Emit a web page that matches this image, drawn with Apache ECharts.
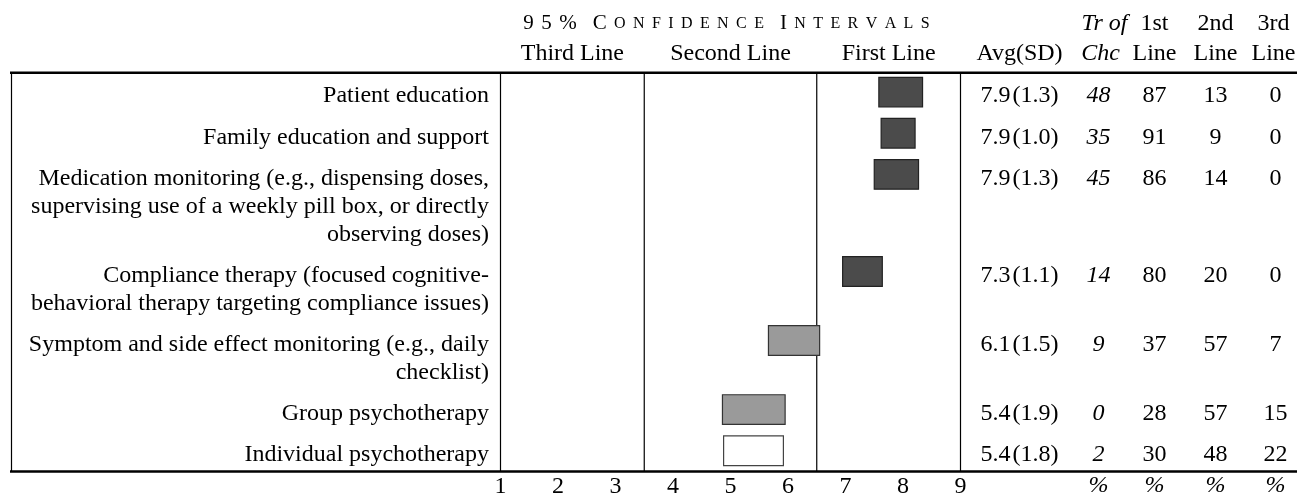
<!DOCTYPE html>
<html>
<head>
<meta charset="utf-8">
<script src="https://cdn.jsdelivr.net/npm/echarts@6/dist/echarts.min.js"></script>
<style>
html,body{margin:0;padding:0;background:#fff;}
#chart{width:1297px;height:494px;}
</style>
</head>
<body>
<div id="chart"></div>
<script>
// ---- data ----
const categories = [
  "Patient education",
  "Family education and support",
  "Medication monitoring (e.g., dispensing doses,\nsupervising use of a weekly pill box, or directly\nobserving doses)",
  "Compliance therapy (focused cognitive-\nbehavioral therapy targeting compliance issues)",
  "Symptom and side effect monitoring (e.g., daily\nchecklist)",
  "Group psychotherapy",
  "Individual psychotherapy"
];
const ciLow  = [7.58, 7.62, 7.50, 6.95, 5.66, 4.86, 4.88];
const ciHigh = [8.34, 8.21, 8.27, 7.64, 6.55, 5.95, 5.92];
const avgSD = ["7.9\u200A(1.3)", "7.9\u200A(1.0)", "7.9\u200A(1.3)", "7.3\u200A(1.1)", "6.1\u200A(1.5)", "5.4\u200A(1.9)", "5.4\u200A(1.8)"];
const treatmentOfChoice = [48, 35, 45, 14, 9, 0, 2];
const firstLinePct  = [87, 91, 86, 80, 37, 28, 30];
const secondLinePct = [13, 9, 14, 20, 57, 57, 48];
const thirdLinePct  = [0, 0, 0, 0, 7, 15, 22];
const barShade = ["dark", "dark", "dark", "dark", "grey", "grey", "white"];
const xTickLabels = ["1", "2", "3", "4", "5", "6", "7", "8", "9"];
const regionBounds = [1, 3.5, 6.5, 9];
const regionNames = ["Third Line", "Second Line", "First Line"];
const titleText = "95% Confidence Intervals";
const colHeadTop = ["", "Tr of", "1st", "2nd", "3rd"];
const colHeadBottom = ["Avg(SD)", "Chc", "Line", "Line", "Line"];
const colFooter = ["", "%", "%", "%", "%"];

// ---- layout helpers ----
const FONT = "'Liberation Serif','Times New Roman',serif";
const FS = 24;
const LINE = 28;          // px per text line
const ROW_GAP = 1.468;    // row step in line units for a one-line row
const BAR_H = 1.06;       // bar height in line units
const lineCounts = categories.map(c => c.split("\n").length);
const rowPos = [];
lineCounts.reduce((acc, n, i) => { rowPos.push(acc); return acc + (n - 1) + ROW_GAP; }, 0);
const yMin = -0.696;
const yMax = rowPos[rowPos.length - 1] + 0.743;
const colOffsets = [59, 138, 194, 255, 315]; // px right of plot edge (column centres)
const headNudge = [0, 6, 0, 0, -2];
const fills = {
  dark: {fill: "#4b4b4b", stroke: "#222"},
  grey: {fill: "#9a9a9a", stroke: "#333"},
  white: {fill: "#ffffff", stroke: "#444"}
};

function titleRich(str) {
  return str.split(" ").map(w => w.split("").map(ch =>
    /[a-z]/.test(ch) ? "{s|" + ch.toUpperCase() + "}" : "{n|" + ch + "}"
  ).join("{g| }")).join("{w| }");
}

const rowData = categories.map((c, i) => [ciLow[i], ciHigh[i], rowPos[i]]);

const chart = echarts.init(document.getElementById("chart"), null, {renderer: "canvas"});

const option = {
  animation: false,
  backgroundColor: "#fff",
  grid: {left: 500.5, right: 336.5, top: 72.7, bottom: 22.5, containLabel: false, outerBoundsMode: "none"},
  xAxis: {
    type: "value", min: 1, max: 9, interval: 1,
    axisLine: {show: false}, axisTick: {show: false}, splitLine: {show: false},
    axisLabel: {
      margin: 3, color: "#000", fontFamily: FONT, fontSize: FS,
      formatter: v => xTickLabels[Math.round(v) - 1]
    }
  },
  yAxis: {type: "value", inverse: true, min: yMin, max: yMax, show: false},
  series: [
    {
      type: "custom",
      name: "frame",
      silent: true,
      data: [[regionBounds[0], 0, 0]],
      encode: {x: 0, y: 1},
      renderItem: function (params, api) {
        const cs = params.coordSys;
        const top = cs.y, bottom = cs.y + cs.height, right = cs.x + cs.width;
        const ch = [];
        ch.push({type: "line", shape: {x1: 10, y1: top, x2: 1297, y2: top}, style: {stroke: "#000", lineWidth: 2.4}});
        ch.push({type: "line", shape: {x1: 10, y1: bottom, x2: 1297, y2: bottom}, style: {stroke: "#000", lineWidth: 2.4}});
        ch.push({type: "line", shape: {x1: 11.5, y1: top, x2: 11.5, y2: bottom}, style: {stroke: "#000", lineWidth: 1.2}});
        regionBounds.forEach(b => {
          const x = api.coord([b, 0])[0];
          ch.push({type: "line", shape: {x1: x, y1: top, x2: x, y2: bottom}, style: {stroke: "#000", lineWidth: 1.2}});
        });
        regionNames.forEach((n, i) => {
          const xc = (api.coord([regionBounds[i], 0])[0] + api.coord([regionBounds[i + 1], 0])[0]) / 2;
          ch.push({type: "text", x: xc, y: top - 19, style: {text: n, align: "center", verticalAlign: "middle", fontFamily: FONT, fontSize: FS, fill: "#000"}});
        });
        const xmid = (api.coord([regionBounds[0], 0])[0] + api.coord([regionBounds[3], 0])[0]) / 2 - 4;
        ch.push({type: "text", x: xmid, y: top - 49, style: {
          text: titleRich(titleText), align: "center", verticalAlign: "middle",
          rich: {
            n: {fontFamily: FONT, fontSize: 21, fill: "#000", lineHeight: 24},
            s: {fontFamily: FONT, fontSize: 16, fill: "#000", lineHeight: 24},
            g: {fontFamily: FONT, fontSize: 21, width: 7.4, lineHeight: 24},
            w: {fontFamily: FONT, fontSize: 21, width: 16, lineHeight: 24}
          }
        }});
        colOffsets.forEach((off, i) => {
          const x = right + off + headNudge[i];
          const it = (i === 1) ? "italic" : "normal";
          if (colHeadTop[i]) ch.push({type: "text", x: x, y: top - 49, style: {text: colHeadTop[i], align: "center", verticalAlign: "middle", fontFamily: FONT, fontSize: FS, fontStyle: it, fill: "#000"}});
          ch.push({type: "text", x: i === 1 ? x - 4 : x, y: top - 19, style: {text: colHeadBottom[i], align: "center", verticalAlign: "middle", fontFamily: FONT, fontSize: FS, fontStyle: it, fill: "#000"}});
          if (colFooter[i]) ch.push({type: "text", x: right + off, y: bottom + 14, style: {text: colFooter[i], align: "center", verticalAlign: "middle", fontFamily: FONT, fontSize: FS, fontStyle: "italic", fill: "#000"}});
        });
        return {type: "group", children: ch};
      }
    },
    {
      type: "custom",
      name: "CI",
      silent: true,
      data: rowData,
      encode: {x: [0, 1], y: 2},
      renderItem: function (params, api) {
        const i = params.dataIndex;
        const cs = params.coordSys;
        const right = cs.x + cs.width;
        const p0 = api.coord([api.value(0), api.value(2)]);
        const p1 = api.coord([api.value(1), api.value(2)]);
        const h = api.size([0, BAR_H])[1];
        const sty = fills[barShade[i]];
        const ty = p0[1] + 4;
        const ch = [];
        ch.push({type: "rect", shape: {x: p0[0], y: p0[1] - h / 2, width: p1[0] - p0[0], height: h},
          style: {fill: sty.fill, stroke: sty.stroke, lineWidth: 1.2}});
        ch.push({type: "text", x: cs.x - 11.5, y: ty - LINE / 2, style: {
          text: categories[i], align: "right", verticalAlign: "top", lineHeight: LINE,
          fontFamily: FONT, fontSize: FS, fill: "#000"}});
        const vals = [avgSD[i], String(treatmentOfChoice[i]), String(firstLinePct[i]), String(secondLinePct[i]), String(thirdLinePct[i])];
        vals.forEach((v, k) => {
          ch.push({type: "text", x: right + colOffsets[k], y: ty, style: {
            text: v, align: "center", verticalAlign: "middle",
            fontFamily: FONT, fontSize: FS, fontStyle: k === 1 ? "italic" : "normal", fill: "#000"}});
        });
        return {type: "group", children: ch};
      }
    }
  ]
};
chart.setOption(option);
</script>
</body>
</html>
